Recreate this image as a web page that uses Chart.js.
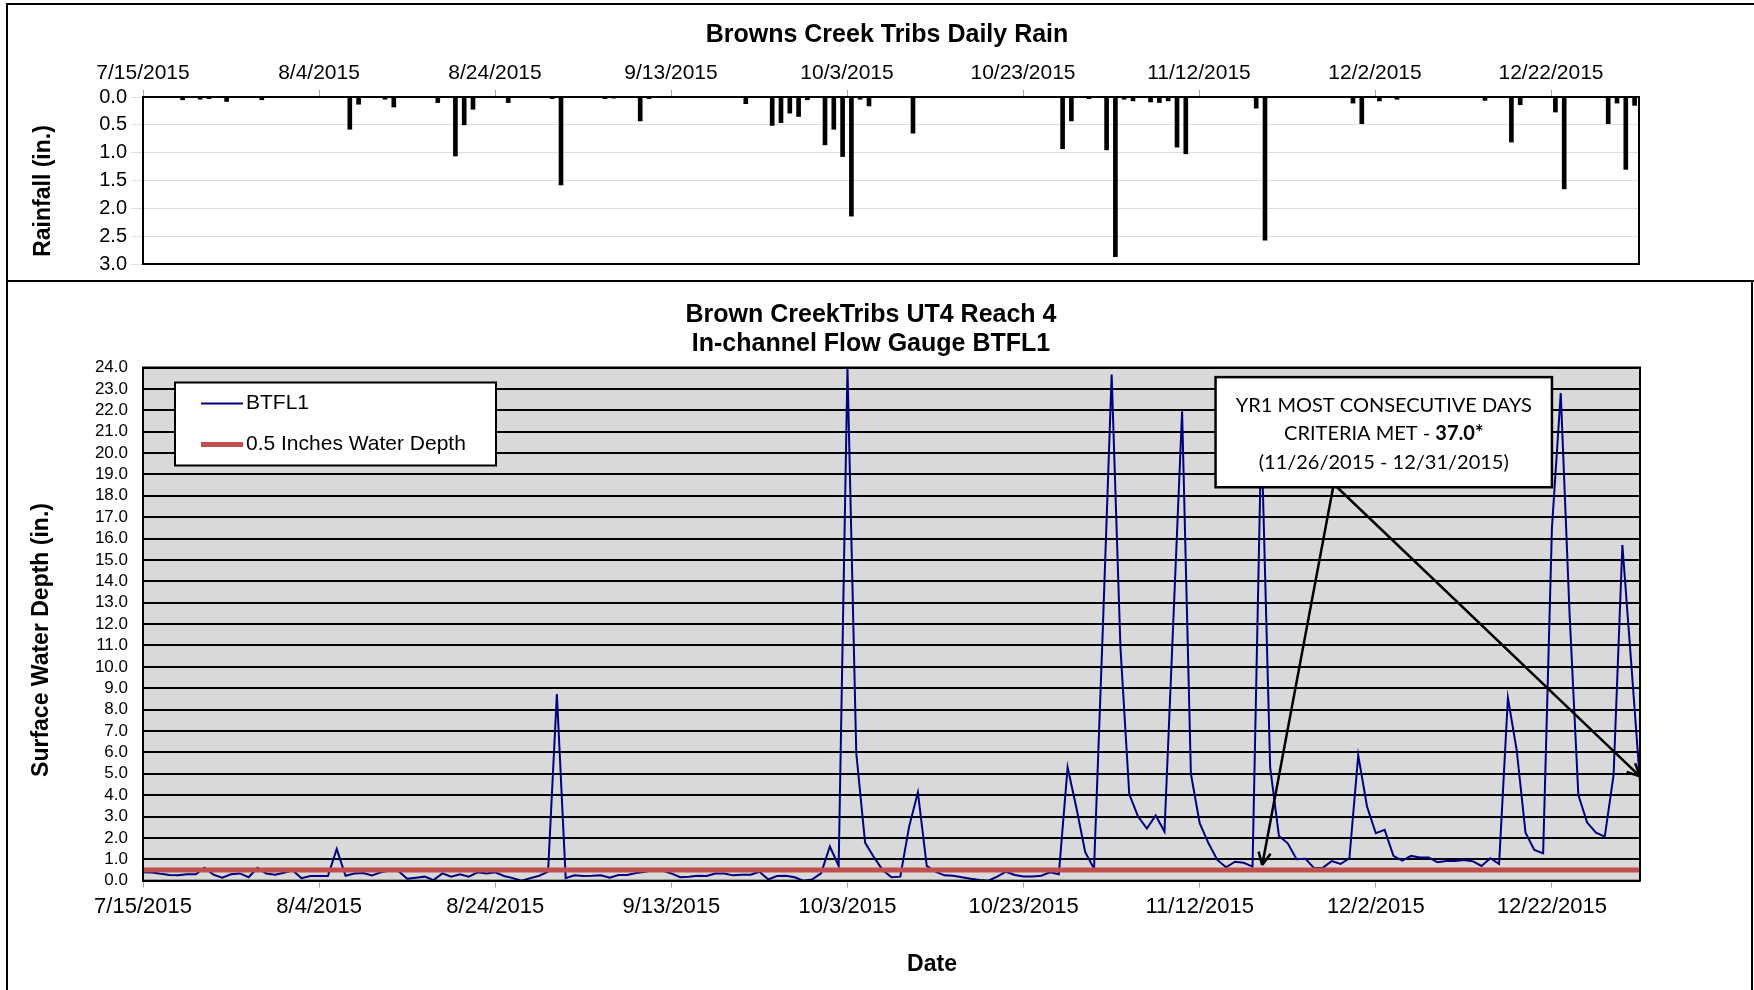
<!DOCTYPE html>
<html lang="en">
<head>
    <meta charset="UTF-8">
    <title>Browns Creek Tribs - Daily Rain and Flow Gauge BTFL1</title>
    <style>
        body {
            margin: 0;
            background: #fff;
            font-family: "Liberation Sans", Arial, sans-serif;
        }
        .page {
            position: relative;
            width: 1754px;
            height: 990px;
            overflow: hidden;
        }
        .frame {
            position: absolute;
            border: 2px solid #000;
            box-sizing: border-box;
        }
        .frame.top {
            left: 6px;
            top: 3px;
            width: 1800px;
            height: 279px;
        }
        .frame.bottom {
            left: 6px;
            top: 280px;
            width: 1747px;
            height: 740px;
        }
        canvas {
            position: absolute;
            left: 0;
        }
    </style>
</head>
<body>
<div class="page">
    <div class="frame top"></div>
    <div class="frame bottom"></div>
    <canvas id="rainChart" width="1754" height="280" style="top:0"></canvas>
    <canvas id="depthChart" width="1754" height="710" style="top:280px"></canvas>
</div>
<script src="https://cdn.jsdelivr.net/npm/chart.js"></script>
<script>
    // date axis: day 0 = 7/15/2015, axis ends at 1/1/2016
    const firstDay = '7/15/2015';
    const axisEnd = '1/1/2016';
    const dateTicks = ['7/15/2015', '8/4/2015', '8/24/2015', '9/13/2015', '10/3/2015',
        '10/23/2015', '11/12/2015', '12/2/2015', '12/22/2015'];

    // daily rain (in.)
    const rainDates = ['7/19/2015', '7/21/2015', '7/22/2015', '7/24/2015', '7/28/2015',
        '8/7/2015', '8/8/2015', '8/11/2015', '8/12/2015', '8/17/2015', '8/19/2015', '8/20/2015',
        '8/21/2015', '8/25/2015', '8/30/2015', '8/31/2015',
        '9/5/2015', '9/6/2015', '9/9/2015', '9/10/2015', '9/21/2015', '9/24/2015', '9/25/2015',
        '9/26/2015', '9/27/2015', '9/28/2015', '9/30/2015',
        '10/1/2015', '10/2/2015', '10/3/2015', '10/4/2015', '10/5/2015', '10/10/2015',
        '10/27/2015', '10/28/2015', '10/30/2015',
        '11/1/2015', '11/2/2015', '11/3/2015', '11/4/2015', '11/6/2015', '11/7/2015', '11/8/2015',
        '11/9/2015', '11/10/2015', '11/18/2015', '11/19/2015', '11/29/2015', '11/30/2015',
        '12/2/2015', '12/4/2015', '12/14/2015', '12/17/2015', '12/18/2015', '12/22/2015',
        '12/23/2015', '12/28/2015', '12/29/2015', '12/30/2015', '12/31/2015'];
    const rainInches = [0.05, 0.04, 0.03, 0.08, 0.05,
        0.58, 0.13, 0.04, 0.18, 0.10, 1.06, 0.50, 0.22, 0.10, 0.03, 1.58,
        0.03, 0.02, 0.43, 0.03, 0.12, 0.51, 0.46, 0.29, 0.35, 0.05, 0.86,
        0.58, 1.07, 2.14, 0.04, 0.16, 0.65, 0.93, 0.43, 0.03,
        0.95, 2.87, 0.04, 0.07, 0.09, 0.10, 0.07, 0.90, 1.02, 0.20, 2.57, 0.11, 0.48,
        0.07, 0.04, 0.06, 0.81, 0.14, 0.27, 1.65, 0.48, 0.11, 1.30, 0.15];

    // BTFL1 surface water depth (in.), one value per day from 7/15/2015
    const depthBTFL1 = [
        0.40, 0.38, 0.32, 0.27, 0.25, 0.30, 0.30, 0.60, 0.28, 0.14,
        0.30, 0.34, 0.16, 0.60, 0.34, 0.28, 0.37, 0.48, 0.12, 0.22,
        0.22, 0.22, 1.48, 0.23, 0.34, 0.36, 0.25, 0.39, 0.48, 0.45,
        0.09, 0.14, 0.19, 0.03, 0.34, 0.19, 0.30, 0.19, 0.39, 0.34,
        0.39, 0.22, 0.12, 0.00, 0.12, 0.23, 0.42, 8.73, 0.12, 0.25,
        0.22, 0.23, 0.25, 0.14, 0.27, 0.27, 0.36, 0.42, 0.50, 0.48,
        0.34, 0.16, 0.19, 0.23, 0.22, 0.34, 0.34, 0.25, 0.28, 0.28,
        0.42, 0.06, 0.22, 0.23, 0.16, 0.00, 0.06, 0.34, 1.60, 0.70,
        24.0, 5.97, 1.78, 1.10, 0.50, 0.16, 0.19, 2.53, 4.13, 0.69,
        0.42, 0.25, 0.23, 0.16, 0.09, 0.03, 0.00, 0.19, 0.42, 0.27,
        0.20, 0.20, 0.23, 0.39, 0.30, 5.30, 3.40, 1.33, 0.56, 11.8,
        23.67, 10.9, 4.05, 3.00, 2.44, 3.05, 2.30, 12.1, 21.95, 5.00,
        2.69, 1.75, 0.97, 0.63, 0.89, 0.84, 0.66, 21.0, 5.30, 2.09,
        1.75, 1.00, 1.03, 0.58, 0.61, 0.92, 0.78, 1.05, 5.86, 3.47,
        2.22, 2.38, 1.16, 0.94, 1.16, 1.09, 1.09, 0.86, 0.92, 0.92,
        0.97, 0.91, 0.69, 1.05, 0.78, 8.55, 6.10, 2.25, 1.44, 1.28,
        16.5, 22.8, 12.5, 4.00, 2.72, 2.25, 2.06, 4.95, 15.7, 10.2,
        4.6];
    const criterionDepth = 0.5;

    function dayOf(str) {
        const [m, d, y] = str.split('/').map(Number);
        const [m0, d0, y0] = firstDay.split('/').map(Number);
        return Math.round((Date.UTC(y, m - 1, d) - Date.UTC(y0, m0 - 1, d0)) / 86400000);
    }

    const FONT = '"Liberation Sans", Arial, sans-serif';
    Chart.defaults.font.family = FONT;
    Chart.defaults.color = '#000';

    // fixed axis box sizes so both plot areas line up like the original sheet
    function fixBox(w, h) {
        return function (scale) {
            if (w != null) scale.width = w;
            if (h != null) scale.height = h;
            scale.paddingTop = scale.paddingBottom = scale.paddingLeft = scale.paddingRight = 0;
        };
    }
    function setDateTicks(scale) {
        scale.ticks = dateTicks.map(t => ({ value: dayOf(t) }));
    }

    const plotFrame = {
        id: 'plotFrame',
        beforeDraw(chart, args, opts) {
            if (!opts.fill) return;
            const a = chart.chartArea;
            chart.ctx.save();
            chart.ctx.fillStyle = opts.fill;
            chart.ctx.fillRect(a.left, a.top, a.width, a.height);
            chart.ctx.restore();
        },
        afterDatasetsDraw(chart, args, opts) {
            const a = chart.chartArea, ctx = chart.ctx;
            ctx.save();
            ctx.strokeStyle = '#000';
            ctx.lineWidth = opts.width || 2;
            ctx.strokeRect(a.left, a.top, a.width, a.height);
            ctx.restore();
        }
    };

    function textPlugin(items) {
        return {
            id: 'sheetText',
            afterDraw(chart) {
                const ctx = chart.ctx;
                items.forEach(t => {
                    ctx.save();
                    ctx.translate(t.x, t.y);
                    if (t.rotate) ctx.rotate(t.rotate);
                    ctx.font = t.font;
                    ctx.fillStyle = '#000';
                    ctx.textAlign = 'center';
                    ctx.textBaseline = 'middle';
                    ctx.fillText(t.text, 0, 0);
                    ctx.restore();
                });
            }
        };
    }

    // legend drawn as a framed box inside the plot, like the Excel one
    const boxLegend = {
        id: 'boxLegend',
        afterDatasetsDraw(chart) {
            const a = chart.chartArea, ctx = chart.ctx;
            const x = a.left + 32, y = a.top + 15, w = 321, h = 83;
            ctx.save();
            ctx.fillStyle = '#fff';
            ctx.fillRect(x, y, w, h);
            ctx.strokeStyle = '#000';
            ctx.lineWidth = 2;
            ctx.strokeRect(x, y, w, h);
            ctx.font = '21px ' + FONT;
            ctx.textBaseline = 'middle';
            chart.data.datasets.forEach((ds, i) => {
                const ry = y + 21 + i * 41;
                ctx.strokeStyle = ds.borderColor;
                ctx.lineWidth = ds.borderWidth;
                ctx.beginPath();
                ctx.moveTo(x + 26, ry);
                ctx.lineTo(x + 68, ry);
                ctx.stroke();
                ctx.fillStyle = '#000';
                ctx.fillText(ds.label, x + 71, ry);
            });
            ctx.restore();
        }
    };

    function arrow(ctx, x0, y0, x1, y1) {
        const ang = Math.atan2(y1 - y0, x1 - x0);
        ctx.beginPath();
        ctx.moveTo(x0, y0);
        ctx.lineTo(x1, y1);
        [-0.45, 0.45].forEach(d => {
            ctx.moveTo(x1, y1);
            ctx.lineTo(x1 - 14 * Math.cos(ang + d), y1 - 14 * Math.sin(ang + d));
        });
        ctx.stroke();
    }

    // criteria call-out, anchored in data units (days, inches)
    const criteriaNote = {
        id: 'criteriaNote',
        afterDatasetsDraw(chart) {
            const xs = chart.scales.x, ys = chart.scales.y, ctx = chart.ctx;
            const left = xs.getPixelForValue(121.8), right = xs.getPixelForValue(160);
            const top = ys.getPixelForValue(23.55), bottom = ys.getPixelForValue(18.4);
            ctx.save();
            ctx.strokeStyle = '#000';
            ctx.lineWidth = 2.5;
            arrow(ctx, xs.getPixelForValue(135.15), bottom, xs.getPixelForValue(127.1), ys.getPixelForValue(0.73));
            arrow(ctx, xs.getPixelForValue(135.6), bottom, xs.getPixelForValue(170), ys.getPixelForValue(4.88));
            ctx.fillStyle = '#fff';
            ctx.fillRect(left, top, right - left, bottom - top);
            ctx.strokeRect(left, top, right - left, bottom - top);

            const cx = (left + right) / 2;
            const reg = '20px Lato, "Open Sans", sans-serif';
            const bold = 'bold 20px Lato, "Open Sans", sans-serif';
            ctx.fillStyle = '#000';
            ctx.textBaseline = 'middle';
            ctx.textAlign = 'center';
            ctx.font = reg;
            ctx.fillText('YR1 MOST CONSECUTIVE DAYS', cx, top + 28.5);
            ctx.fillText('(11/26/2015 - 12/31/2015)', cx, top + 85);
            const a = 'CRITERIA MET - ', b = '37.0*';
            const wa = ctx.measureText(a).width;
            ctx.font = bold;
            const wb = ctx.measureText(b).width;
            ctx.textAlign = 'left';
            ctx.font = reg;
            ctx.fillText(a, cx - (wa + wb) / 2, top + 56.5);
            ctx.font = bold;
            ctx.fillText(b, cx - (wa + wb) / 2 + wa, top + 56.5);
            ctx.restore();
        }
    };

    const xMax = dayOf(axisEnd);

    new Chart(document.getElementById('rainChart'), {
        type: 'bar',
        data: {
            datasets: [{
                label: 'Daily Rain',
                data: rainDates.map((d, i) => ({ x: dayOf(d) + 0.5, y: rainInches[i] })),
                backgroundColor: '#000',
                barThickness: 4
            }]
        },
        options: {
            responsive: false,
            animation: false,
            layout: { padding: { left: 0, right: 115, top: 0, bottom: 16 } },
            plugins: {
                legend: { display: false },
                tooltip: { enabled: false },
                plotFrame: { width: 2 }
            },
            scales: {
                x: {
                    type: 'linear',
                    position: 'top',
                    min: 0,
                    max: xMax,
                    offset: false,
                    afterBuildTicks: setDateTicks,
                    afterFit: fixBox(null, 97),
                    ticks: {
                        callback: (v, i) => dateTicks[i],
                        font: { size: 21 },
                        padding: 4,
                        maxRotation: 0,
                        autoSkip: false
                    },
                    grid: { offset: false, drawOnChartArea: false, tickLength: 7, color: '#a6a6a6' },
                    border: { display: false }
                },
                y: {
                    reverse: true,
                    min: 0,
                    max: 3,
                    afterFit: fixBox(143, null),
                    ticks: { stepSize: 0.5, callback: v => v.toFixed(1), font: { size: 20 }, padding: 4, autoSkip: false },
                    grid: { color: '#dedede', tickLength: 12 },
                    border: { display: false }
                }
            }
        },
        plugins: [plotFrame, textPlugin([
            { text: 'Browns Creek Tribs Daily Rain', x: 887, y: 35, font: 'bold 25px ' + FONT },
            { text: 'Rainfall (in.)', x: 43.5, y: 191, rotate: -Math.PI / 2, font: 'bold 23px ' + FONT }
        ])]
    });

    new Chart(document.getElementById('depthChart'), {
        type: 'line',
        data: {
            datasets: [
                {
                    label: 'BTFL1',
                    data: depthBTFL1.map((v, i) => ({ x: i, y: v })),
                    borderColor: '#000080',
                    borderWidth: 2,
                    pointRadius: 0,
                    order: 2
                },
                {
                    label: '0.5 Inches Water Depth',
                    data: depthBTFL1.map((v, i) => ({ x: i, y: criterionDepth })),
                    borderColor: '#c0504d',
                    borderWidth: 5,
                    pointRadius: 0,
                    order: 1
                }
            ]
        },
        options: {
            responsive: false,
            animation: false,
            layout: { padding: { left: 0, right: 114, top: 87.5, bottom: 0 } },
            plugins: {
                legend: { display: false },
                tooltip: { enabled: false },
                plotFrame: { fill: '#d9d9d9', width: 2 }
            },
            scales: {
                x: {
                    type: 'linear',
                    min: 0,
                    max: xMax,
                    afterBuildTicks: setDateTicks,
                    afterFit: fixBox(null, 109.3),
                    ticks: {
                        callback: (v, i) => dateTicks[i],
                        font: { size: 22 },
                        padding: 6,
                        maxRotation: 0,
                        autoSkip: false
                    },
                    grid: { drawOnChartArea: false, tickLength: 7, color: '#a6a6a6' },
                    border: { display: false }
                },
                y: {
                    min: 0,
                    max: 24,
                    afterFit: fixBox(143, null),
                    ticks: { stepSize: 1, callback: v => v.toFixed(1), font: { size: 17 }, padding: 15, autoSkip: false },
                    grid: { color: '#000', lineWidth: 2, drawTicks: false },
                    border: { display: false }
                }
            }
        },
        plugins: [plotFrame, criteriaNote, boxLegend, textPlugin([
            { text: 'Brown CreekTribs UT4 Reach 4', x: 871, y: 35, font: 'bold 25px ' + FONT },
            { text: 'In-channel Flow Gauge BTFL1', x: 871, y: 64, font: 'bold 25px ' + FONT },
            { text: 'Surface Water Depth (in.)', x: 41.5, y: 360, rotate: -Math.PI / 2, font: 'bold 23px ' + FONT },
            { text: 'Date', x: 932, y: 685, font: 'bold 23px ' + FONT }
        ])]
    });
</script>
</body>
</html>
